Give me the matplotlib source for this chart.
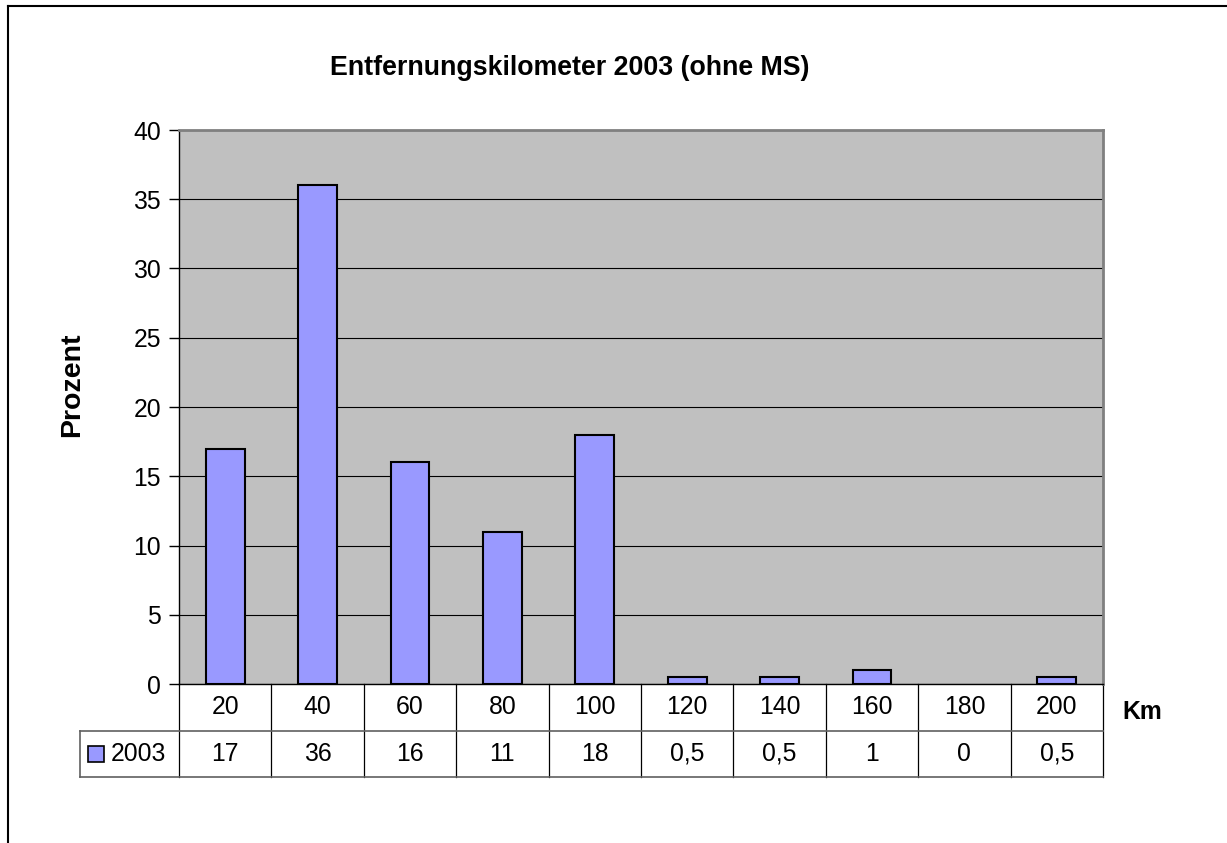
import matplotlib
matplotlib.use("Agg")
import matplotlib.pyplot as plt
from matplotlib.patches import Rectangle
from matplotlib.lines import Line2D
import matplotlib.transforms as mtransforms

plt.rcParams['font.family'] = ['Liberation Sans', 'DejaVu Sans']

# ---- data ----
categories = ["20", "40", "60", "80", "100", "120", "140", "160", "180", "200"]
values = [17, 36, 16, 11, 18, 0.5, 0.5, 1, 0, 0.5]
series_name = "2003"
yticks = [0, 5, 10, 15, 20, 25, 30, 35, 40]
title = "Entfernungskilometer 2003 (ohne MS)"
ylabel = "Prozent"
xlabel = "Km"

bar_color = "#9999FF"
bg_color = "#C0C0C0"
FS = 17.8

W, H = 1227, 843
fig = plt.figure(figsize=(W / 100, H / 100), dpi=100)

# plot area in pixels
left_px, right_px, top_px, bottom_px = 179, 1103, 130, 684
ax = fig.add_axes([left_px / W, 1 - bottom_px / H,
                   (right_px - left_px) / W, (bottom_px - top_px) / H])
ax.set_facecolor(bg_color)

x = list(range(len(categories)))
ax.bar(x, values, width=0.42, color=bar_color, edgecolor="black",
       linewidth=[1.5 if v > 0 else 0 for v in values], zorder=3)

ax.set_xlim(-0.5, len(categories) - 0.5)
ax.set_ylim(yticks[0], yticks[-1])
ax.set_yticks(yticks)
ax.set_yticklabels([str(t) for t in yticks], fontsize=FS)
ax.set_xticks([])
ax.yaxis.grid(True, color="black", linewidth=0.8, zorder=1)
ax.set_axisbelow(True)
ax.tick_params(axis="y", direction="out", length=7, width=1, color="black", pad=6)

for s in ("top", "right"):
    ax.spines[s].set_color("#808080")
    ax.spines[s].set_linewidth(2)
for s in ("left", "bottom"):
    ax.spines[s].set_color("black")
    ax.spines[s].set_linewidth(1)

# ---- data table below the axis ----
ax_h_px = bottom_px - top_px
ax_w_px = right_px - left_px
row1 = 47 / ax_h_px
row2 = 46 / ax_h_px
label_left = (80 - left_px) / ax_w_px

trans = mtransforms.blended_transform_factory(ax.transData, ax.transAxes)
n = len(categories)
# vertical lines
for i in range(n + 1):
    ax.add_line(Line2D([i - 0.5, i - 0.5], [0, -(row1 + row2)], transform=trans,
                       color="black", linewidth=0.9, clip_on=False))
# horizontal lines
for yy in (-row1, -(row1 + row2)):
    ax.add_line(Line2D([label_left, 1], [yy, yy], transform=ax.transAxes,
                       color="#606060", linewidth=1.2, clip_on=False))
ax.add_line(Line2D([label_left, label_left], [-row1, -(row1 + row2)],
                   transform=ax.transAxes, color="#606060", linewidth=1.2,
                   clip_on=False))

def fmt(v):
    return f"{v:g}".replace(".", ",")

for i, (c, v) in enumerate(zip(categories, values)):
    ax.text(i, -row1 / 2, c, transform=trans, ha="center", va="center",
            fontsize=FS, clip_on=False)
    ax.text(i, -row1 - row2 / 2, fmt(v), transform=trans, ha="center",
            va="center", fontsize=FS, clip_on=False)

# legend key in row label cell
sq_w = 16 / ax_w_px
sq_h = 16 / ax_h_px
sq_x = (88 - left_px) / ax_w_px
ax.add_patch(Rectangle((sq_x, -row1 - row2 / 2 - sq_h / 2), sq_w, sq_h,
                       transform=ax.transAxes, facecolor=bar_color,
                       edgecolor="black", linewidth=1.2, clip_on=False))
ax.text((111 - left_px) / ax_w_px, -row1 - row2 / 2, series_name,
        transform=ax.transAxes, ha="left", va="center", fontsize=FS)

# ---- titles / labels ----
fig.text(570 / W, 1 - 68 / H, title, ha="center", va="center",
         fontsize=19.3, fontweight="bold")
fig.text(72 / W, 1 - 385 / H, ylabel, ha="center", va="center",
         rotation=90, fontsize=20.5, fontweight="bold")
fig.text(1142 / W, 1 - 712 / H, xlabel, ha="center", va="center",
         fontsize=FS, fontweight="bold")

# ---- outer chart border (left and top visible) ----
fig.add_artist(Line2D([8 / W, 8 / W], [0, 1 - 6 / H], transform=fig.transFigure,
                      color="black", linewidth=1.5))
fig.add_artist(Line2D([8 / W, 1], [1 - 6 / H, 1 - 6 / H], transform=fig.transFigure,
                      color="black", linewidth=1.5))

fig.savefig("out.png", dpi=100)
